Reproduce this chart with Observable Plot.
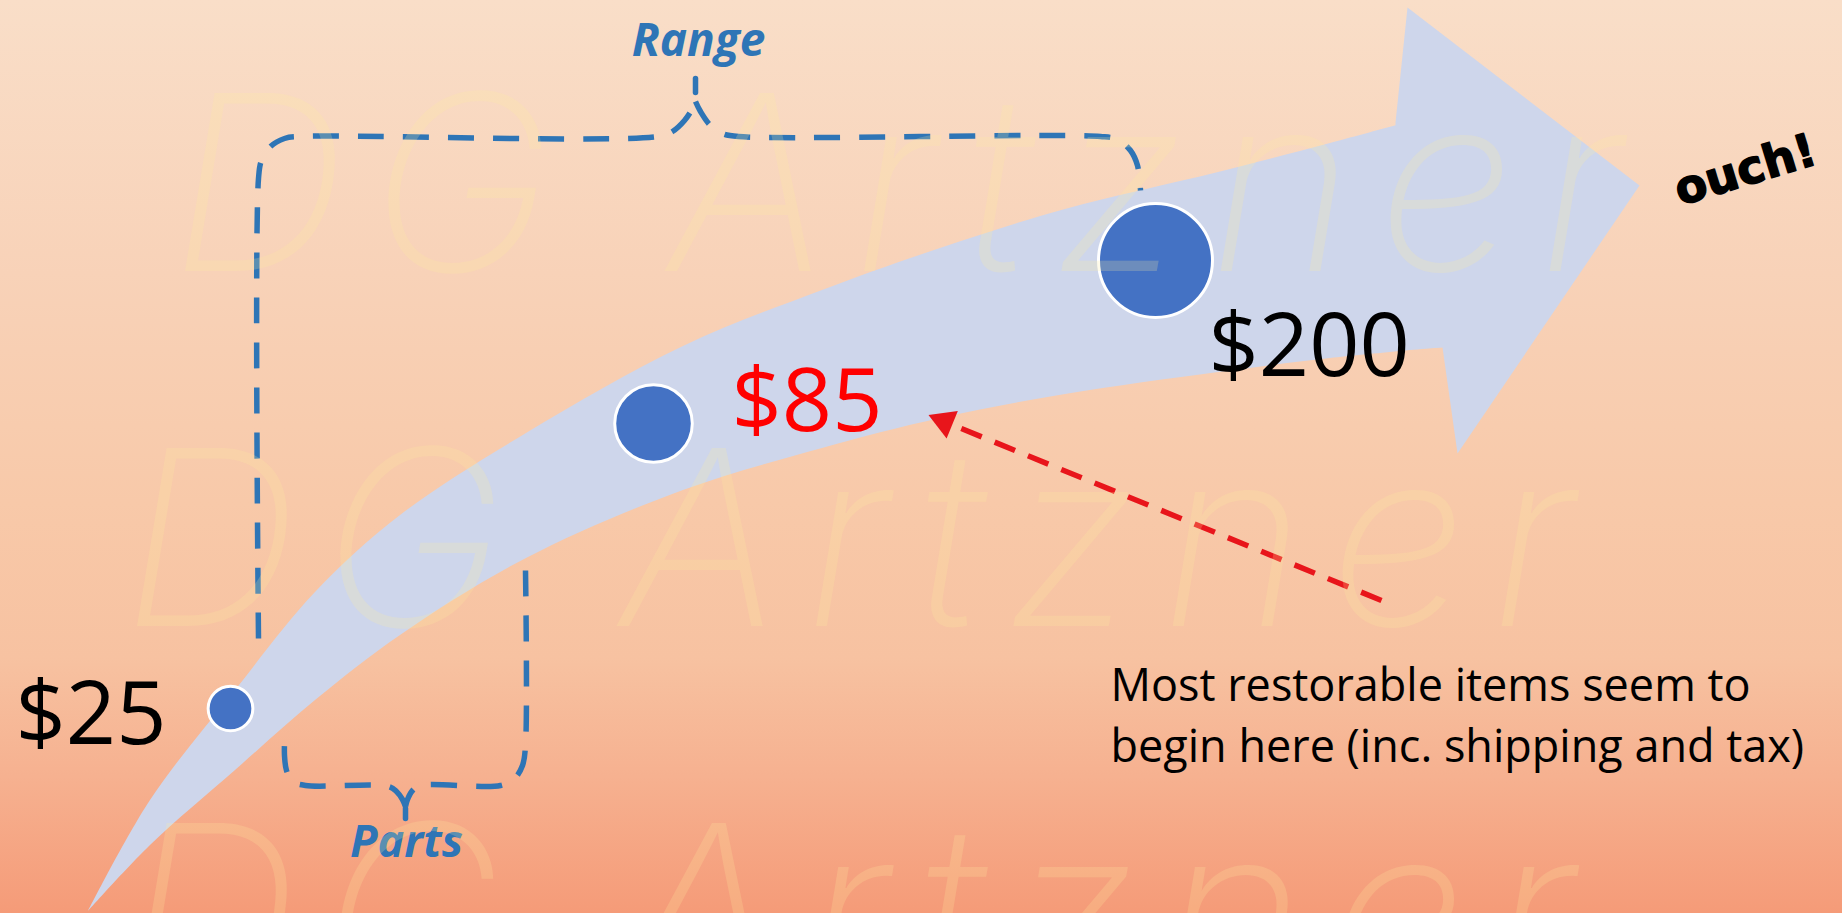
<!DOCTYPE html>
<html>
<head>
<meta charset="utf-8">
<script src="https://cdn.jsdelivr.net/npm/d3@7"></script>
<script src="https://cdn.jsdelivr.net/npm/@observablehq/plot@0.6"></script>
<style>
  html, body { margin: 0; padding: 0; overflow: hidden; background: #F8CDB0; }
  #chart svg { display: block; }
</style>
</head>
<body>
<div id="chart"></div>
<script>
// ---------- values ----------
const prices = [25, 85, 200];
const priceLabels = prices.map(p => `$${p}`);
const priceColors = ["#000000", "#FF0000", "#000000"];
const rangeLabel = "Range";
const partsLabel = "Parts";
const noteLines = ["Most restorable items seem to", "begin here (inc. shipping and tax)"];
const exclaim = "ouch!";
const watermarkRows = ["DG Artzner", "DG Artzner", "DG Artzner"];

// ---------- layout (canvas units) ----------
const W = 1842, H = 913;
const dotX = [230, 653, 1155];
const dotY = [708, 423, 260];
const labelX = [15, 731, 1208];
const labelY = [743, 430, 375];

// arrow body: common x samples with upper/lower edge
const bodyX      = [88, 150, 235, 315, 400, 526, 683, 822, 940, 1065, 1218, 1330, 1444];
const bodyTop    = [911, 800, 690, 592, 515, 433, 346, 290, 248, 209, 172, 143, 112];
const bodyBottom = [911, 845, 770, 700, 635, 558, 490, 448, 418, 394, 372, 358, 347];
// arrow head polygon
const headX = [1395, 1407, 1639, 1457, 1442, 1395];
const headY = [122, 7, 185, 453, 347, 349];

// brackets
const rangeLeftX  = [258, 258, 261, 270, 284, 300, 658, 672, 684, 692, 695];
const rangeLeftY  = [638, 178, 160, 146, 138, 136, 136, 131, 120, 108, 101];
const rangeRightX = [695, 700, 710, 722, 738, 1100, 1117, 1130, 1137, 1140];
const rangeRightY = [101, 111, 125, 133, 136, 136, 139, 150, 165, 190];
const rangeTipX = [695, 695], rangeTipY = [78, 92];
const partsRightX = [525, 525, 522, 514, 500, 420, 412, 407, 405];
const partsRightY = [570, 745, 765, 778, 785, 785, 790, 799, 806];
const partsLeftX  = [405, 402, 396, 388, 305, 292, 286, 284, 284];
const partsLeftY  = [806, 799, 791, 786, 785, 781, 770, 755, 743];
const partsTipX = [405, 405], partsTipY = [808, 818];

// red pointer
const pointerFrom = [1381, 600];
const pointerTo = [929, 415];

// ---------- build tables ----------
const body = bodyX.map((x, i) => ({x, top: bodyTop[i], bottom: bodyBottom[i]}));
const head = headX.map((x, i) => ({x, y: headY[i]}));
const seg = (name, xs, ys) => xs.map((x, i) => ({name, x, y: ys[i]}));
const bracketDashed = [
  ...seg("rl", rangeLeftX, rangeLeftY),
  ...seg("rr", rangeRightX, rangeRightY),
  ...seg("pr", partsRightX, partsRightY),
  ...seg("pl", partsLeftX, partsLeftY)
];
const bracketTips = [...seg("rt", rangeTipX, rangeTipY), ...seg("pt", partsTipX, partsTipY)];
const points = prices.map((p, i) => ({p, x: dotX[i], y: dotY[i]}));
const labels = priceLabels.map((t, i) => ({t, x: labelX[i], y: labelY[i], c: priceColors[i]}));
const notes = noteLines.map((t, i) => ({t, x: 1110, y: 700 + i * 61}));
const wm = watermarkRows.map((t, i) => ({t, x: [170, 122, 122][i], y: [270, 625, 1000][i]}));

const dx = pointerFrom[0] - pointerTo[0], dy = pointerFrom[1] - pointerTo[1];
const len = Math.hypot(dx, dy), ux = dx / len, uy = dy / len;
const headLen = 22;
const pointerShaft = [{x1: pointerFrom[0], y1: pointerFrom[1], x2: pointerTo[0] + ux * headLen, y2: pointerTo[1] + uy * headLen}];
const headAngle = Math.atan2(-dy, -dx) * 180 / Math.PI + 90;
const pointerHead = [{x: pointerTo[0] + ux * 16, y: pointerTo[1] + uy * 16}];

const arrowColor = "#CED6EB";
const bracketColor = "#2E75B6";

const chart = Plot.plot({
  width: W, height: H, margin: 0,
  x: {domain: [0, W], range: [0, W], axis: null},
  y: {domain: [0, H], range: [0, H], axis: null},
  r: {type: "pow", exponent: 0.45, domain: [0, 200], range: [0, 57]},
  color: {type: "identity"},
  style: {
    background: "linear-gradient(180deg, #F9DEC8 0%, #F8D2B8 30%, #F8C9A9 55%, #F7C2A1 72%, #F6B190 85%, #F59B78 100%)",
    overflow: "hidden"
  },
  marks: [
    Plot.areaY(body, {x: "x", y1: "bottom", y2: "top", fill: arrowColor, curve: "catmull-rom"}),
    Plot.line(head, {x: "x", y: "y", fill: arrowColor, stroke: "none", curve: "linear-closed"}),
    Plot.line(bracketDashed, {x: "x", y: "y", z: "name", stroke: bracketColor, strokeWidth: 5.5,
      strokeDasharray: "26,19", curve: "catmull-rom", strokeLinecap: "butt"}),
    Plot.line(bracketTips, {x: "x", y: "y", z: "name", stroke: bracketColor, strokeWidth: 5.5}),
    Plot.link(pointerShaft, {x1: "x1", y1: "y1", x2: "x2", y2: "y2", stroke: "#E8151B",
      strokeWidth: 5.5, strokeDasharray: "22,14"}),
    Plot.dot(pointerHead, {x: "x", y: "y", symbol: "triangle", r: 11, fill: "#E8151B",
      stroke: "none", rotate: headAngle}),
    Plot.dot(points, {x: "x", y: "y", r: "p", fill: "#4472C4", stroke: "white", strokeWidth: 3}),
    Plot.text(labels, {x: "x", y: "y", text: "t", fill: "c", fontSize: 88,
      fontFamily: "Open Sans", textAnchor: "start", lineAnchor: "bottom"}),
    Plot.text([rangeLabel], {x: () => 698, y: () => 55, text: d => d, fill: bracketColor, fontSize: 46,
      fontFamily: "Open Sans", fontWeight: 700, fontStyle: "italic", textAnchor: "middle", lineAnchor: "bottom"}),
    Plot.text([partsLabel], {x: () => 406, y: () => 856, text: d => d, fill: bracketColor, fontSize: 45,
      fontFamily: "Open Sans", fontWeight: 700, fontStyle: "italic", textAnchor: "middle", lineAnchor: "bottom"}),
    Plot.text(notes, {x: "x", y: "y", text: "t", fill: "#000", fontSize: 45,
      fontFamily: "Open Sans", textAnchor: "start", lineAnchor: "bottom"}),
    Plot.text([exclaim], {x: () => 1745, y: () => 170, text: d => d, fill: "#000", stroke: "#000",
      strokeWidth: 1.5, fontSize: 46, fontFamily: "DejaVu Sans", fontWeight: 700, rotate: -17,
      textAnchor: "middle", lineAnchor: "middle"}),
    Plot.text(wm, {x: "x", y: "y", text: "t", fill: "#FFEBA0", fillOpacity: 0.22, fontSize: 245,
      fontFamily: "Inter, Roboto", fontWeight: 250, fontStyle: "italic", textAnchor: "start", lineAnchor: "bottom"})
  ]
});
d3.select(chart).selectAll("text")
  .filter(function() { return watermarkRows.includes(this.textContent); })
  .style("letter-spacing", "24px");
document.getElementById("chart").appendChild(chart);
</script>
</body>
</html>
